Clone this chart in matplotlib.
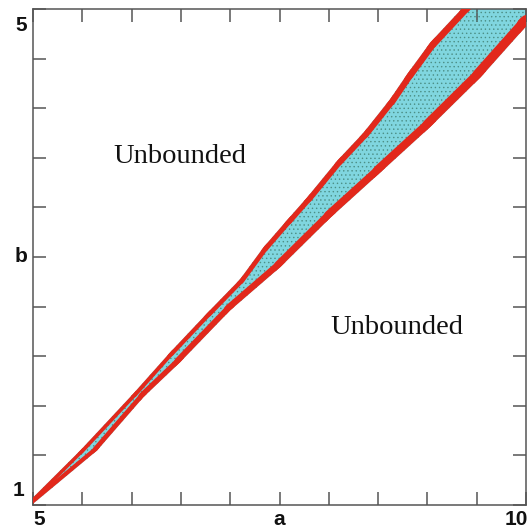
import numpy as np
import matplotlib
matplotlib.use("Agg")
import matplotlib.pyplot as plt
from matplotlib.patches import Polygon
from matplotlib.collections import LineCollection

# boundary of the bounded region (a, b)
upper_a = [5.0, 5.48, 6.02, 6.39, 6.77, 7.10, 7.34, 7.58, 7.78, 8.09, 8.35, 8.62, 8.80, 9.03, 9.37, 9.55]
upper_b = [1.06, 1.44, 1.90, 2.23, 2.55, 2.82, 3.08, 3.30, 3.48, 3.78, 4.00, 4.27, 4.48, 4.73, 5.02, 5.18]
lower_a = [5.0, 5.65, 6.12, 6.49, 7.00, 7.51, 8.02, 8.52, 9.03, 9.54, 10.0, 10.2]
lower_b = [1.01, 1.44, 1.87, 2.15, 2.57, 2.92, 3.32, 3.68, 4.05, 4.45, 4.86, 5.02]

x_ticks = np.arange(5, 10.01, 0.5)
y_ticks = np.linspace(1, 5, 11)

cyan = "#80d6df"
red = "#e2281b"

fig = plt.figure(figsize=(5.27, 5.29), dpi=100)
ax = fig.add_axes([33 / 527, 1 - 505 / 529, (526 - 33) / 527, (505 - 9) / 529])
ax.set_xlim(5, 10)
ax.set_ylim(1, 5)

poly_xy = list(zip(upper_a, upper_b)) + list(zip(lower_a[::-1], lower_b[::-1]))
region = Polygon(poly_xy, closed=True, facecolor=cyan, edgecolor="none", zorder=1)
ax.add_patch(region)

plt.rcParams["hatch.linewidth"] = 0.5
specks = Polygon(poly_xy, closed=True, facecolor="none", edgecolor="#4c8f86",
                 hatch="....", linewidth=0, zorder=2)
ax.add_patch(specks)


def band(xs, ys, w0, w1):
    # red band along an edge, getting thicker towards the top, kept inside the region
    pts = np.column_stack([xs, ys])
    segs = np.stack([pts[:-1], pts[1:]], axis=1)
    lc = LineCollection(segs, colors=red, linewidths=np.linspace(w0, w1, len(segs)),
                        capstyle="round", zorder=3)
    ax.add_collection(lc)
    lc.set_clip_path(region)


band(upper_a, upper_b, 5, 10)
band(lower_a, lower_b, 6, 14)

ax.text(6.49, 3.81, "Unbounded", family="Liberation Serif", fontsize=20.5,
        ha="center", va="center", color="#111111")
ax.text(8.69, 2.435, "Unbounded", family="Liberation Serif", fontsize=20.5,
        ha="center", va="center", color="#111111")

ax.set_xticks(x_ticks)
ax.set_yticks(y_ticks)
ax.set_xticklabels([])
ax.set_yticklabels([])
ax.tick_params(direction="in", length=9.5, width=1.1, color="#555555",
               top=True, right=True)
for s in ax.spines.values():
    s.set_color("#555555")
    s.set_linewidth(1.1)

lab = dict(family="Liberation Sans", fontweight="bold", fontsize=15, color="#111111")
ax.annotate("5", xy=(0, 5), xycoords=("axes fraction", "data"), xytext=(-6, -7),
            textcoords="offset pixels", ha="right", va="top", **lab)
ax.annotate("b", xy=(0, 3), xycoords=("axes fraction", "data"), xytext=(-6, 0),
            textcoords="offset pixels", ha="right", va="center", **lab)
ax.annotate("1", xy=(0, 1), xycoords=("axes fraction", "data"), xytext=(-9, 5),
            textcoords="offset pixels", ha="right", va="bottom", **lab)
ax.annotate("5", xy=(5, 0), xycoords=("data", "axes fraction"), xytext=(0, -5),
            textcoords="offset pixels", ha="left", va="top", **lab)
ax.annotate("a", xy=(7.5, 0), xycoords=("data", "axes fraction"), xytext=(0, -5),
            textcoords="offset pixels", ha="center", va="top", **lab)
ax.annotate("10", xy=(10, 0), xycoords=("data", "axes fraction"), xytext=(2, -5),
            textcoords="offset pixels", ha="right", va="top", **lab)

fig.savefig("out.png", dpi=100)
